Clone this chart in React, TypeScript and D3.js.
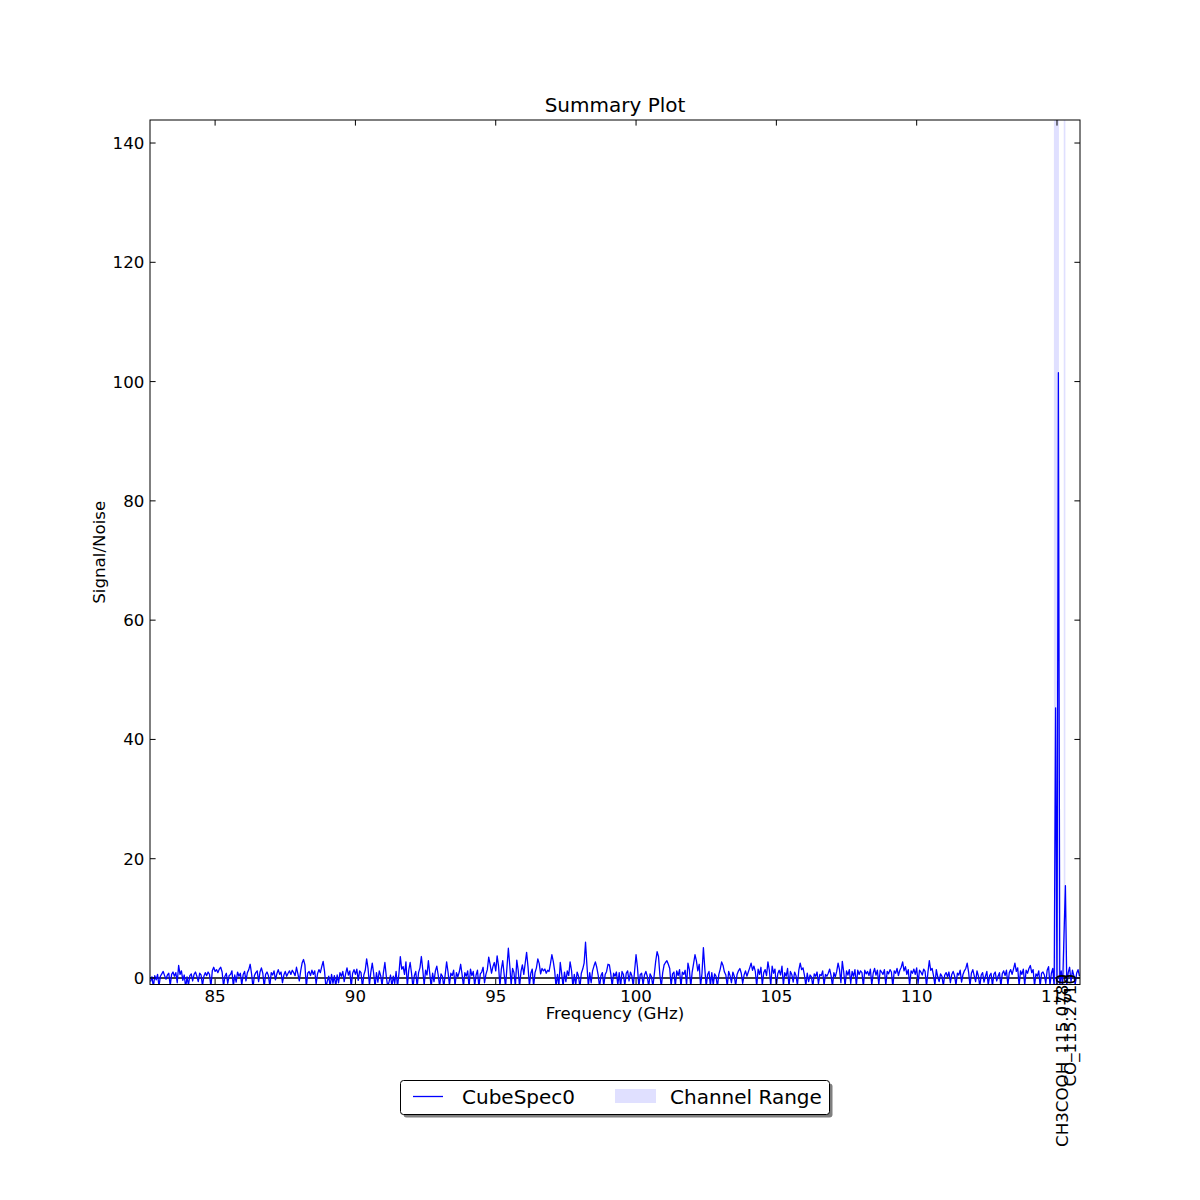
import React from 'react';
import * as d3 from 'd3';

// Spectrum: first channel frequency (GHz), channel spacing (GHz), signal/noise per channel
const freqStart = 82.7;
const freqStep = 0.05;
const snrValues: number[] = [
  // 82.70 - 83.65
  -0.6, 0.2, -1.5, 0.4, -0.3, 0.6, -1.4, 0.3, 0.7, 1.1, 0.4, -0.2, 0.5, 0.8, -1.3, 0.6, 1.0, 0.3, 0.9, -0.8,
  // 83.70 - 84.65
  2.1, 0.6, 1.2, -0.4, 0.5, -1.6, 0.2, -1.2, 0.4, 0.7, -0.5, 0.6, 1.0, 0.3, -0.6, 0.8, 0.5, -1.3, 0.3, 0.9,
  // 84.70 - 85.65
  0.4, 1.0, 0.6, -1.5, 1.2, 1.8, 1.1, 1.4, 0.9, 1.5, 1.8, 1.0, -1.4, 0.3, 0.8, -0.9, 0.4, 0.6, 1.2, -1.4,
  // 85.70 - 86.65
  0.5, -0.7, 1.0, 0.3, 0.8, -1.2, 0.6, 1.1, -0.5, 0.9, 1.4, 2.3, 0.7, -1.6, 0.4, 0.9, 1.2, -0.6, 1.0, 1.7,
  // 86.70 - 87.65
  0.8, -1.5, 0.6, 1.0, 0.4, -1.4, 0.9, 0.5, 1.2, -0.3, 0.7, 1.4, 0.6, 1.0, -0.8, 0.5, 1.1, 0.3, 0.8, 1.2,
  // 87.70 - 88.65
  0.6, 1.3, 0.9, 0.4, 1.8, 0.7, -0.5, 1.2, 2.5, 3.1, 2.2, -1.5, 0.8, 1.1, 0.4, 1.3, 0.6, 1.2, -1.0, 0.7,
  // 88.70 - 89.65
  1.4, 0.9, 1.9, 2.8, 1.1, -1.6, -0.5, 0.3, -1.5, 0.6, -0.9, 0.4, -1.4, 0.5, -0.8, 0.9, 0.3, 1.1, -0.6, 0.7,
  // 89.70 - 90.65
  1.7, 0.5, 1.2, -1.5, 0.8, 1.4, 0.6, 1.5, -0.4, 1.2, 0.9, -1.6, 0.5, 1.3, 3.2, 1.6, -1.2, 1.0, 2.5, 0.8,
  // 90.70 - 91.65
  -1.5, 0.9, -0.7, 1.2, 0.4, -1.3, 1.0, 2.6, 0.3, -1.5, -0.6, 0.5, -1.4, 0.3, -0.9, 1.1, -1.5, 0.7, 3.6, 1.5,
  // 91.70 - 92.65
  1.9, 0.6, 2.7, -1.4, 1.3, 2.6, 0.8, -1.6, 0.4, 1.1, -1.5, 0.9, 1.7, 3.6, 1.4, -1.2, 1.3, 0.5, 2.9, 0.7,
  // 92.70 - 93.65
  -1.5, 0.8, -0.6, 1.2, 2.0, 0.5, -1.4, 0.7, 0.3, -1.5, 0.6, 2.7, 1.0, -1.2, 0.8, 0.4, 1.3, -1.3, 0.9, 0.2,
  // 93.70 - 94.65
  1.0, 2.3, 0.6, -1.4, 0.9, 0.3, 1.2, -1.5, 1.5, 0.4, 1.1, -1.3, 0.5, 1.3, -1.6, 0.7, 1.0, 1.8, -0.8, 0.6,
  // 94.70 - 95.65
  1.4, 3.5, 2.3, 0.8, 1.9, 2.6, 1.2, 3.7, 2.0, -1.4, 1.5, 2.9, 0.6, -1.5, 1.8, 5.0, 2.1, -1.2, 1.6, 0.9,
  // 95.70 - 96.65
  -1.4, 3.0, 1.3, -1.5, 1.1, 2.2, 0.6, 2.5, 4.3, 1.9, -1.3, 0.8, 1.5, -1.4, 0.9, 1.7, 3.2, 2.4, 0.7, 1.6,
  // 96.70 - 97.65
  1.2, 1.5, 0.8, 1.3, 1.1, 2.4, 3.9, 2.8, 1.2, -1.5, 0.6, -1.3, 2.6, 0.7, -1.4, 1.0, -0.6, 1.2, 0.4, 2.7,
  // 97.70 - 98.65
  1.3, -1.5, 0.6, -1.2, 1.0, 0.3, -1.6, 0.8, 1.5, 2.5, 6.0, 2.1, -1.4, 0.9, -0.8, 1.2, 2.0, 2.7, 1.8, 0.5,
  // 98.70 - 99.65
  -1.5, 0.4, 0.9, -1.3, 0.6, 1.1, 2.3, 2.2, 0.7, -1.4, 0.8, 0.3, 1.0, -1.2, 0.9, -1.5, 1.1, 0.6, -1.3, 0.8,
  // 99.70 - 100.65
  1.2, -0.5, 1.0, 0.4, -1.4, 1.3, 3.9, 1.8, -1.5, 0.6, 0.8, -1.2, 0.5, 1.1, 0.3, -1.5, 0.7, 0.2, -1.4, 0.6,
  // 100.70 - 101.65
  2.8, 4.4, 3.6, 0.5, -1.5, 0.9, 2.2, 2.6, 2.9, 2.3, 1.6, -1.3, 0.7, 1.0, -1.4, 1.2, 0.4, 1.4, -1.5, 1.0,
  // 101.70 - 102.65
  0.6, 1.3, -1.2, 2.5, 1.4, -1.5, 1.0, 2.4, 3.9, 2.9, 1.2, 2.3, -1.4, 0.8, 5.1, 1.6, -1.5, 0.6, 1.1, -1.3,
  // 102.70 - 103.65
  0.9, -1.2, 0.7, 0.3, -1.5, 0.6, 1.5, 2.7, 2.1, 1.0, 0.5, -1.4, 1.1, 0.4, -0.8, 1.0, 0.3, -1.3, 0.6, 1.2,
  // 103.70 - 104.65
  1.6, 0.8, -0.9, 0.5, 1.2, 0.3, 1.0, 1.7, 2.5, 1.3, 2.0, 1.1, -1.4, 1.5, 0.6, 1.8, -1.2, 0.9, 1.4, 0.4,
  // 104.70 - 105.65
  2.7, 1.3, -1.3, 2.0, 0.8, 1.5, -1.4, 0.7, 1.3, 0.5, 2.0, -1.2, 0.9, 0.3, 1.6, -1.5, 1.1, 0.6, -0.7, 1.0,
  // 105.70 - 106.65
  0.4, -1.2, 1.3, 2.5, 1.4, 1.7, 0.5, -1.3, 0.8, -0.6, 0.5, 0.2, -1.4, 0.7, 0.3, 1.0, -1.0, 0.6, 0.4, 1.2,
  // 106.70 - 107.65
  -1.2, 0.6, 0.3, 0.8, 1.5, 0.4, -1.4, 0.9, 0.2, 1.1, 2.5, 1.4, -0.8, 2.8, 1.0, -1.3, 1.2, 0.5, 1.4, -0.9,
  // 107.70 - 108.65
  1.1, 0.3, 1.4, -1.3, 1.3, 0.6, 1.2, 0.9, -1.4, 1.3, 0.7, 1.1, 0.4, 1.5, -1.2, 0.8, 1.6, 0.5, 1.3, -1.1,
  // 108.70 - 109.65
  1.3, 1.0, 0.6, 1.4, -1.2, 1.1, 0.7, 1.4, 1.0, -1.5, 1.2, 0.8, 1.6, 0.4, 1.3, 1.8, 2.7, 1.2, 1.9, 0.6,
  // 109.70 - 110.65
  1.4, -1.3, 1.2, 0.8, 1.5, 0.6, 1.7, -0.9, 1.3, 1.0, 0.5, 1.5, 1.1, -1.4, 0.9, 2.9, 1.3, 1.6, 0.4, -1.2,
  // 110.70 - 111.65
  1.4, 0.2, -0.6, 0.7, 0.3, -1.3, 0.5, 0.9, 0.2, 1.0, -0.8, 0.6, 1.1, 0.4, -1.2, 0.8, 0.5, 1.3, -0.7, 0.6,
  // 111.70 - 112.65
  1.2, 1.6, 2.5, 1.0, -1.3, 0.8, 1.4, 0.4, -0.6, 1.2, 0.3, -1.4, 0.5, 0.9, -0.7, 0.3, 1.1, -1.2, 0.4, 0.8,
  // 112.70 - 113.65
  -1.3, 0.6, 1.0, -0.5, 0.3, 0.9, -1.4, 0.7, 1.2, 0.4, 1.3, -1.2, 0.9, 1.4, 0.6, 1.5, 2.5, 1.1, 1.7, -1.3,
  // 113.70 - 114.65
  1.2, 0.6, 1.5, -1.2, 1.3, 0.8, 1.6, 2.1, 0.9, 1.4, -1.3, 0.7, 0.3, 1.2, -1.4, 0.8, 1.0, 0.5, -0.9, 1.3,
  // 114.70 - 115.65
  1.9, -1.2, 0.8, 1.6, -1.5, 45.3, -1.5, 101.5, -1.4, 1.2, -1.5, 7.2, 15.5, -1.2, 0.9, 1.8, -0.6, 1.3, 0.4, -1.1,
  // 115.70 - 115.80
  0.8, 1.4, 0.3,
];

const xTicks = [85, 90, 95, 100, 105, 110, 115];
const yTicks = [0, 20, 40, 60, 80, 100, 120, 140];
const channelRangeStart = [114.89, 115.24];
const channelRangeEnd = [115.07, 115.3];
const lineNames = ['CH3COOH_115.0780', 'CO_115.2710'];
const lineFreqs = [115.078, 115.271];
const legendLabels = ['CubeSpec0', 'Channel Range'];
const title = 'Summary Plot';
const xLabel = 'Frequency (GHz)';
const yLabel = 'Signal/Noise';

const FONT = '"DejaVu Sans", Verdana, sans-serif';

export default function App() {
  const left = 150, right = 1080, top = 120, bottom = 984.5;
  const x = d3.scaleLinear().domain([82.68, 115.82]).range([left, right]);
  const y = d3.scaleLinear().domain([-1.09, 143.86]).range([bottom, top]);

  const points = snrValues.map((v, i) => [freqStart + freqStep * i, v] as [number, number]);
  const lineGen = d3.line<[number, number]>().x(d => x(d[0])).y(d => y(d[1]));
  const tickLen = 5.6;
  const tickFs = 16.67;
  const labelOffsets = [9, 11];

  return (
    <svg width={1200} height={1200} style={{ position: 'absolute', left: 0, top: 0, background: '#fff' }} fontFamily={FONT}>
      <rect x={0} y={0} width={1200} height={1200} fill="#fff" />
      <defs>
        <clipPath id="plotClip">
          <rect x={left} y={top} width={right - left} height={bottom - top} />
        </clipPath>
      </defs>
      <g clipPath="url(#plotClip)">
        {channelRangeStart.map((s, i) => (
          <rect key={i} x={x(s)} y={top} width={x(channelRangeEnd[i]) - x(s)} height={bottom - top} fill="#0000ff" fillOpacity={0.12} />
        ))}
        <line x1={left} x2={right} y1={y(0)} y2={y(0)} stroke="#000" strokeWidth={1.6} />
        <path d={lineGen(points) || ''} fill="none" stroke="#0000ff" strokeWidth={1.3} strokeLinejoin="round" />
      </g>
      {/* frame */}
      <rect x={left} y={top} width={right - left} height={bottom - top} fill="none" stroke="#000" strokeWidth={1} />
      {/* x ticks */}
      {xTicks.map(t => (
        <g key={'x' + t}>
          <line x1={x(t)} x2={x(t)} y1={bottom} y2={bottom - tickLen} stroke="#000" />
          <line x1={x(t)} x2={x(t)} y1={top} y2={top + tickLen} stroke="#000" />
          <text x={x(t)} y={bottom + 5.6} dy="0.74em" textAnchor="middle" fontSize={tickFs} fill="#000">{t}</text>
        </g>
      ))}
      {/* y ticks */}
      {yTicks.map(t => (
        <g key={'y' + t}>
          <line x1={left} x2={left + tickLen} y1={y(t)} y2={y(t)} stroke="#000" />
          <line x1={right} x2={right - tickLen} y1={y(t)} y2={y(t)} stroke="#000" />
          <text x={left - 5.6} y={y(t)} dy="0.36em" textAnchor="end" fontSize={tickFs} fill="#000">{t}</text>
        </g>
      ))}
      {/* line labels */}
      {lineNames.map((n, i) => {
        const bx = x(lineFreqs[i]) + labelOffsets[i];
        const by = 974;
        return (
          <text key={n} x={bx} y={by} transform={`rotate(-90 ${bx} ${by})`} textAnchor="end" fontSize={tickFs} fill="#000">{n}</text>
        );
      })}
      {/* titles */}
      <text x={(left + right) / 2} y={112} textAnchor="middle" fontSize={20} fill="#000">{title}</text>
      <text x={(left + right) / 2} y={1019} textAnchor="middle" fontSize={tickFs} fill="#000">{xLabel}</text>
      <text x={105} y={(top + bottom) / 2} transform={`rotate(-90 105 ${(top + bottom) / 2})`} textAnchor="middle" fontSize={tickFs} fill="#000">{yLabel}</text>
      {/* legend */}
      <g>
        <rect x={403.5} y={1083.5} width={429} height={34} rx={3} fill="#7f7f7f" />
        <rect x={400.5} y={1080.5} width={429} height={34} rx={3} fill="#fff" stroke="#000" strokeWidth={1} />
        <line x1={413} x2={443} y1={1096.5} y2={1096.5} stroke="#0000ff" strokeWidth={1.3} />
        <text x={462} y={1103.5} fontSize={20} fill="#000">{legendLabels[0]}</text>
        <rect x={615} y={1089} width={41} height={14} fill="#0000ff" fillOpacity={0.12} />
        <text x={670} y={1103.5} fontSize={20} fill="#000">{legendLabels[1]}</text>
      </g>
    </svg>
  );
}
